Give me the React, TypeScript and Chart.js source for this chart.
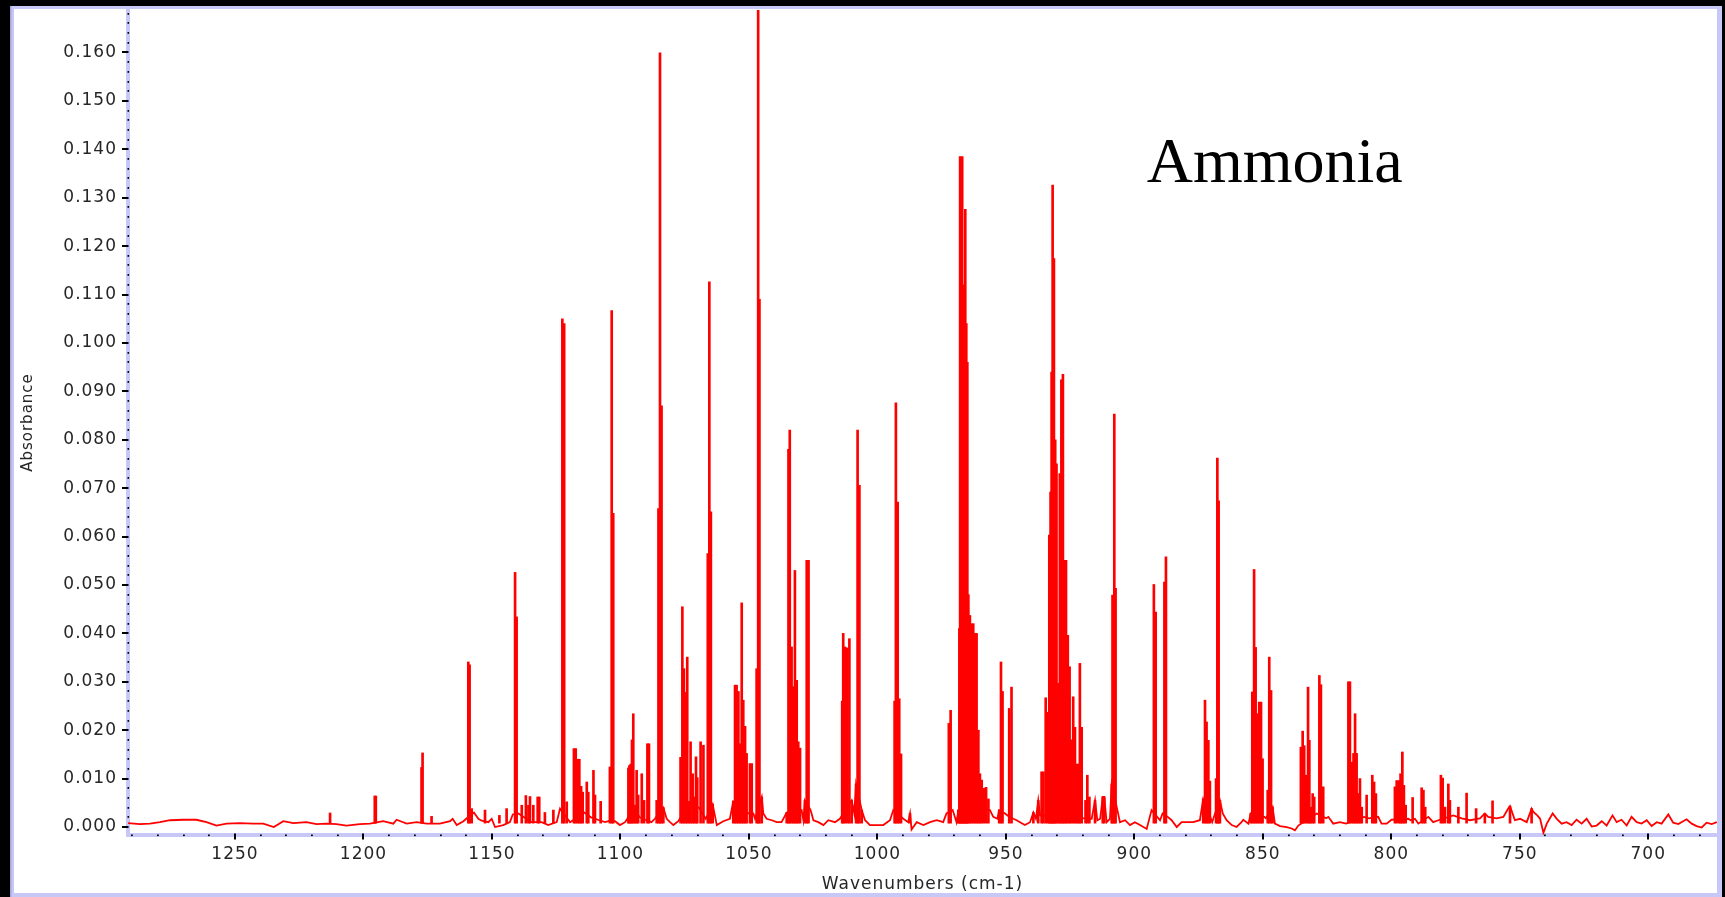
import React, { useEffect, useRef } from 'react';
import { Chart, registerables } from 'chart.js';

Chart.register(...registerables);

// Smooth background trace of the spectrum (wavenumber in cm-1, absorbance)
const BASE_WN = [
  1291.6, 1287.0, 1283.1, 1279.2, 1275.3, 1270.1, 1265.0, 1261.1, 1257.2, 1253.3,
  1248.1, 1242.9, 1239.0, 1234.9, 1231.2, 1227.3, 1222.2, 1218.3, 1214.4, 1210.5,
  1206.6, 1201.4, 1197.5, 1192.3, 1188.4, 1187.1, 1183.2, 1179.3, 1175.4, 1170.3,
  1166.3, 1165.3, 1163.7, 1161.1, 1159.8, 1157.0, 1155.3, 1154.0, 1151.4, 1150.1,
  1148.8, 1145.6, 1143.0, 1141.9, 1139.7, 1137.5, 1134.6, 1130.7, 1128.1, 1124.8,
  1123.5, 1119.6, 1114.0, 1111.5, 1108.8, 1106.0, 1104.7, 1102.1, 1100.2, 1098.2,
  1094.6, 1092.5, 1090.3, 1087.9, 1086.6, 1083.3, 1082.0, 1080.7, 1079.4, 1077.5,
  1073.0, 1069.5, 1066.8, 1064.1, 1062.5, 1060.0, 1057.4, 1056.1, 1050.2, 1048.3,
  1047.6, 1045.0, 1044.4, 1043.1, 1041.1, 1039.2, 1037.3, 1035.3, 1029.5, 1028.8,
  1028.2, 1026.0, 1024.9, 1023.0, 1021.0, 1019.1, 1016.5, 1014.6, 1010.0, 1009.0,
  1008.3, 1006.1, 1004.8, 1002.9, 1000.3, 997.7, 995.1, 993.8, 989.9, 988.0,
  987.3, 986.7, 984.7, 982.1, 979.5, 976.9, 974.4, 973.1, 970.7, 969.2,
  968.5, 956.2, 954.9, 953.3, 952.6, 950.3, 949.4, 947.1, 945.8, 944.5,
  942.6, 940.6, 939.3, 938.3, 937.4, 936.7, 916.6, 915.3, 914.4, 913.3,
  912.3, 911.7, 910.8, 909.5, 908.8, 906.6, 905.6, 903.6, 901.7, 899.8,
  897.8, 895.2, 893.3, 891.1, 890.0, 889.0, 887.0, 885.5, 883.5, 881.6,
  879.6, 877.1, 874.5, 873.2, 869.7, 868.6, 866.7, 865.6, 864.1, 862.1,
  860.2, 858.3, 857.6, 855.6, 854.7, 849.4, 848.8, 846.2, 845.3, 843.3,
  840.7, 838.8, 837.5, 836.2, 829.0, 825.4, 824.5, 822.6, 820.0, 817.6,
  810.6, 808.7, 805.1, 803.8, 801.8, 799.9, 793.4, 792.5, 790.8, 789.5,
  785.6, 783.7, 781.7, 775.9, 772.6, 769.4, 765.5, 763.6, 762.3, 759.0,
  756.4, 754.5, 753.8, 751.9, 749.9, 747.3, 745.4, 744.7, 743.2, 742.1,
  740.8, 739.5, 737.2, 735.6, 733.7, 731.8, 729.8, 727.9, 725.9, 724.0,
  722.0, 720.1, 718.1, 716.2, 713.9, 712.3, 710.4, 708.4, 706.5, 704.5,
  702.6, 700.6, 698.7, 696.7, 694.8, 692.2, 690.3, 688.3, 685.1, 683.1,
  681.2, 679.2, 677.3, 675.3, 673.3,
];
const BASE_ABS = [
  0.0008, 0.0006, 0.0007, 0.0010, 0.0014, 0.0015, 0.0015, 0.0010, 0.0003, 0.0007,
  0.0008, 0.0007, 0.0007, 0.0000, 0.0012, 0.0008, 0.0010, 0.0006, 0.0007, 0.0006,
  0.0003, 0.0006, 0.0007, 0.0012, 0.0007, 0.0015, 0.0007, 0.0010, 0.0007, 0.0007,
  0.0012, 0.0017, 0.0004, 0.0012, 0.0018, 0.0030, 0.0017, 0.0013, 0.0010, 0.0017,
  0.0000, 0.0004, 0.0010, 0.0026, 0.0028, 0.0020, 0.0010, 0.0010, 0.0004, 0.0010,
  0.0038, 0.0010, 0.0030, 0.0020, 0.0015, 0.0010, 0.0012, 0.0012, 0.0004, 0.0010,
  0.0040, 0.0020, 0.0015, 0.0010, 0.0017, 0.0040, 0.0017, 0.0010, 0.0004, 0.0012,
  0.0050, 0.0040, 0.0017, 0.0047, 0.0004, 0.0012, 0.0017, 0.0053, 0.0028, 0.0028,
  0.0017, 0.0062, 0.0028, 0.0017, 0.0014, 0.0010, 0.0010, 0.0030, 0.0035, 0.0014,
  0.0055, 0.0035, 0.0014, 0.0010, 0.0004, 0.0014, 0.0010, 0.0017, 0.0055, 0.0028,
  0.0089, 0.0035, 0.0014, 0.0004, 0.0004, 0.0004, 0.0014, 0.0035, 0.0017, 0.0010,
  0.0028, -0.0005, 0.0010, 0.0004, 0.0010, 0.0014, 0.0010, 0.0028, 0.0035, 0.0010,
  0.0035, 0.0035, 0.0021, 0.0017, 0.0035, 0.0028, 0.0024, 0.0017, 0.0014, 0.0010,
  0.0004, 0.0010, 0.0030, 0.0017, 0.0055, 0.0024, 0.0017, 0.0055, 0.0014, 0.0017,
  0.0062, 0.0062, 0.0010, 0.0017, 0.0089, 0.0035, 0.0010, 0.0014, 0.0004, 0.0010,
  0.0004, -0.0004, 0.0035, 0.0021, 0.0014, 0.0028, 0.0021, 0.0014, 0.0000, 0.0010,
  0.0010, 0.0010, 0.0014, 0.0058, 0.0010, 0.0028, 0.0055, 0.0028, 0.0014, 0.0004,
  0.0000, 0.0010, 0.0015, 0.0007, 0.0028, 0.0021, 0.0018, 0.0041, 0.0007, 0.0002,
  0.0000, -0.0003, -0.0007, 0.0003, 0.0028, 0.0018, 0.0021, 0.0007, 0.0010, 0.0007,
  0.0021, 0.0018, 0.0021, 0.0007, 0.0007, 0.0015, 0.0017, 0.0014, 0.0017, 0.0007,
  0.0021, 0.0010, 0.0014, 0.0024, 0.0018, 0.0014, 0.0018, 0.0028, 0.0021, 0.0018,
  0.0021, 0.0038, 0.0043, 0.0014, 0.0017, 0.0010, 0.0038, 0.0031, 0.0024, 0.0017,
  -0.0012, 0.0007, 0.0028, 0.0017, 0.0007, 0.0010, 0.0004, 0.0015, 0.0007, 0.0017,
  0.0001, 0.0003, 0.0012, 0.0003, 0.0024, 0.0010, 0.0015, 0.0003, 0.0021, 0.0010,
  0.0007, 0.0014, 0.0002, 0.0010, 0.0007, 0.0026, 0.0009, 0.0006, 0.0016, 0.0007,
  0.0002, -0.0001, 0.0009, 0.0006, 0.0010,
];

// Individual rotational-vibrational absorption lines (cm-1, absorbance)
const LINE_WN = [
  1213.0, 1195.6, 1195.2, 1177.4, 1177.0, 1173.5, 1159.2, 1158.7, 1157.9, 1152.7,
  1147.1, 1144.3, 1141.0, 1140.4, 1138.4, 1136.8, 1135.8, 1135.2, 1133.9, 1132.2,
  1131.6, 1129.4, 1126.1, 1122.6, 1121.9, 1120.9, 1118.1, 1117.4, 1116.6, 1116.0,
  1115.3, 1114.7, 1113.1, 1112.5, 1110.5, 1109.9, 1107.7, 1104.1, 1103.4, 1102.8,
  1096.9, 1096.5, 1096.0, 1095.5, 1095.0, 1094.3, 1093.7, 1093.1, 1091.7, 1090.8,
  1089.5, 1088.9, 1085.9, 1085.2, 1084.6, 1084.0, 1083.3, 1076.6, 1075.9, 1075.3,
  1074.6, 1074.0, 1073.3, 1072.7, 1071.9, 1071.3, 1070.6, 1070.1, 1068.8, 1067.7,
  1066.0, 1065.4, 1064.8, 1064.1, 1056.1, 1055.4, 1054.8, 1054.1, 1053.5, 1052.8,
  1052.2, 1051.5, 1050.9, 1049.6, 1048.9, 1047.0, 1046.4, 1045.9, 1045.0, 1035.3,
  1034.6, 1034.1, 1033.4, 1032.7, 1032.1, 1031.4, 1030.8, 1030.1, 1028.2, 1027.5,
  1026.8, 1013.7, 1013.3, 1012.6, 1011.7, 1010.9, 1010.0, 1008.3, 1007.7, 1007.0,
  1006.1, 993.3, 992.8, 992.1, 991.5, 990.8, 987.3, 972.2, 971.5, 968.5,
  968.1, 967.8, 967.4, 967.0, 966.6, 966.2, 965.8, 965.4, 965.0, 964.6,
  964.0, 963.4, 962.7, 962.0, 961.4, 960.7, 960.1, 959.4, 958.6, 957.7,
  956.8, 952.6, 951.9, 951.3, 948.7, 947.8, 939.3, 937.4, 936.1, 935.4,
  934.5, 933.7, 933.1, 932.6, 932.2, 931.8, 931.3, 930.8, 930.3, 929.6,
  929.0, 928.4, 927.8, 927.2, 926.6, 925.9, 925.2, 924.6, 923.8, 923.1,
  922.4, 921.8, 921.2, 920.5, 919.0, 918.3, 917.5, 915.3, 912.3, 911.7,
  908.8, 908.5, 907.8, 907.3, 892.4, 891.7, 888.3, 887.7, 873.2, 872.5,
  871.9, 871.2, 870.6, 868.2, 867.7, 867.2, 866.7, 854.7, 854.1, 853.4,
  852.8, 852.1, 851.4, 850.7, 850.1, 848.1, 847.5, 846.8, 846.2, 835.2,
  834.5, 833.9, 833.2, 832.4, 831.9, 831.3, 830.6, 830.0, 828.0, 827.4,
  826.5, 816.7, 816.1, 815.4, 814.7, 814.1, 813.5, 812.8, 812.2, 811.5,
  809.6, 807.4, 806.7, 806.0, 798.6, 797.9, 796.9, 796.4, 795.7, 795.1,
  794.4, 791.7, 788.2, 787.5, 786.8, 780.7, 780.0, 779.1, 777.8, 777.2,
  773.9, 770.7, 767.0, 763.6, 760.6, 753.8, 745.4,
];
const LINE_ABS = [
  0.0029, 0.0064, 0.0064, 0.0123, 0.0153, 0.0022, 0.0341, 0.0335, 0.0038, 0.0035,
  0.0024, 0.0038, 0.0526, 0.0434, 0.0045, 0.0065, 0.0045, 0.0063, 0.0045, 0.0062,
  0.0062, 0.0030, 0.0035, 0.1050, 0.1040, 0.0052, 0.0162, 0.0162, 0.0140, 0.0140,
  0.0084, 0.0072, 0.0093, 0.0072, 0.0117, 0.0066, 0.0053, 0.0124, 0.1067, 0.0648,
  0.0122, 0.0127, 0.0130, 0.0180, 0.0234, 0.0045, 0.0117, 0.0066, 0.0110, 0.0055,
  0.0172, 0.0172, 0.0055, 0.0658, 0.1599, 0.0870, 0.0040, 0.0144, 0.0455, 0.0327,
  0.0278, 0.0351, 0.0053, 0.0176, 0.0110, 0.0062, 0.0145, 0.0102, 0.0176, 0.0169,
  0.0565, 0.1126, 0.0651, 0.0047, 0.0053, 0.0293, 0.0293, 0.0280, 0.0172, 0.0463,
  0.0262, 0.0208, 0.0152, 0.0131, 0.0131, 0.0327, 0.1700, 0.1090, 0.0062, 0.0030,
  0.0780, 0.0820, 0.0372, 0.0290, 0.0530, 0.0303, 0.0176, 0.0163, 0.0055, 0.0551,
  0.0551, 0.0260, 0.0400, 0.0372, 0.0370, 0.0389, 0.0055, 0.0089, 0.0820, 0.0706,
  0.0035, 0.0260, 0.0876, 0.0671, 0.0265, 0.0151, 0.0028, 0.0214, 0.0241, 0.0035,
  0.0410, 0.1385, 0.0830, 0.1385, 0.1120, 0.1110, 0.1276, 0.1040, 0.0960, 0.0480,
  0.0437, 0.0420, 0.0420, 0.0400, 0.0400, 0.0200, 0.0110, 0.0097, 0.0080, 0.0082,
  0.0058, 0.0035, 0.0341, 0.0280, 0.0245, 0.0289, 0.0030, 0.0055, 0.0114, 0.0114,
  0.0267, 0.0237, 0.0603, 0.0692, 0.0940, 0.1326, 0.1174, 0.0800, 0.0750, 0.0297,
  0.0730, 0.0924, 0.0935, 0.0551, 0.0551, 0.0396, 0.0331, 0.0180, 0.0269, 0.0206,
  0.0130, 0.0130, 0.0338, 0.0206, 0.0055, 0.0107, 0.0062, 0.0055, 0.0062, 0.0062,
  0.0089, 0.0479, 0.0853, 0.0493, 0.0501, 0.0444, 0.0506, 0.0558, 0.0058, 0.0262,
  0.0217, 0.0179, 0.0095, 0.0100, 0.0762, 0.0674, 0.0055, 0.0028, 0.0279, 0.0532,
  0.0371, 0.0234, 0.0258, 0.0258, 0.0141, 0.0076, 0.0351, 0.0282, 0.0041, 0.0165,
  0.0198, 0.0168, 0.0107, 0.0289, 0.0179, 0.0041, 0.0069, 0.0062, 0.0313, 0.0294,
  0.0083, 0.0300, 0.0300, 0.0134, 0.0152, 0.0234, 0.0152, 0.0069, 0.0100, 0.0041,
  0.0066, 0.0107, 0.0093, 0.0069, 0.0083, 0.0096, 0.0096, 0.0110, 0.0155, 0.0086,
  0.0045, 0.0061, 0.0081, 0.0076, 0.0041, 0.0107, 0.0101, 0.0041, 0.0089, 0.0055,
  0.0041, 0.0070, 0.0038, 0.0028, 0.0054, 0.0043, 0.0038,
];

// Axis ranges and tick spacing
const X_MIN = 673.25;
const X_MAX = 1291.64;
const Y_MIN = -0.00165;
const Y_MAX = 0.16877;
const X_MAJOR = 50;
const X_MINOR = 10;
const Y_MAJOR = 0.01;
const Y_MINOR = 0.002;

const SAMPLE_LABEL = 'Ammonia';
const SAMPLE_LABEL_WN = 895.2;
const SAMPLE_LABEL_ABS = 0.1333;

const W = 1725;
const H = 897;
const LAVENDER = '#c8c8f8';
const TRACE = '#ff0000';
const TEXT = '#262626';
const SANS = '"DejaVu Sans", "Noto Sans", sans-serif';

const panelPlugin = {
  id: 'panel',
  beforeLayout(chart: any) {
    chart.ctx.letterSpacing = '1px';
  },
  beforeDraw(chart: any) {
    const ctx = chart.ctx;
    ctx.letterSpacing = '1px';
    ctx.save();
    ctx.fillStyle = '#000000';
    ctx.fillRect(0, 0, W, H);
    ctx.fillStyle = LAVENDER;
    ctx.fillRect(10, 6, 1712, 891);
    ctx.fillStyle = '#a8a8d8';
    ctx.fillRect(10, 6, 1.5, 891);
    ctx.fillStyle = '#ffffff';
    ctx.fillRect(14, 9, 1703, 884);
    ctx.restore();
  },
  afterDraw(chart: any) {
    const { ctx, chartArea, scales } = chart;
    const xs = scales.x;
    const ys = scales.y;
    ctx.save();
    ctx.letterSpacing = '0px';
    ctx.fillStyle = '#000000';
    // y axis: long major ticks, small dots for the minor ones
    const yLo = Math.ceil(Y_MIN / Y_MINOR);
    const yHi = Math.floor(Y_MAX / Y_MINOR);
    for (let k = yLo; k <= yHi; k++) {
      const py = Math.round(ys.getPixelForValue(k * Y_MINOR));
      if (k % Math.round(Y_MAJOR / Y_MINOR) === 0) {
        ctx.fillRect(chartArea.left - 6, py - 1, 6.5, 2);
      } else {
        ctx.fillRect(chartArea.left - 0.5, py - 1, 1.6, 1.8);
      }
    }
    // x axis
    const xLo = Math.ceil(X_MIN / X_MINOR);
    const xHi = Math.floor(X_MAX / X_MINOR);
    for (let k = xLo; k <= xHi; k++) {
      const px = Math.round(xs.getPixelForValue(k * X_MINOR));
      if ((k * X_MINOR) % X_MAJOR === 0) {
        ctx.fillRect(px - 1, chartArea.bottom - 1.5, 2, 6);
      } else {
        ctx.fillRect(px - 1, chartArea.bottom - 0.5, 1.8, 1.6);
      }
    }
    // sample name
    ctx.fillStyle = '#000000';
    ctx.font = '64px "Liberation Serif", "Times New Roman", serif';
    ctx.textAlign = 'left';
    ctx.textBaseline = 'alphabetic';
    ctx.fillText(
      SAMPLE_LABEL,
      xs.getPixelForValue(SAMPLE_LABEL_WN),
      ys.getPixelForValue(SAMPLE_LABEL_ABS)
    );
    ctx.restore();
  },
};

export default function App() {
  const canvasRef = useRef<HTMLCanvasElement | null>(null);

  useEffect(() => {
    const canvas = canvasRef.current;
    if (!canvas) return;

    const basePoints = BASE_WN.map((x, i) => ({ x, y: BASE_ABS[i] }));
    const linePoints = LINE_WN.map((x, i) => ({ x, y: LINE_ABS[i] }));

    const chart = new Chart(canvas, {
      type: 'bar',
      data: {
        datasets: [
          {
            type: 'line',
            data: basePoints,
            borderColor: TRACE,
            borderWidth: 1.8,
            pointRadius: 0,
            tension: 0,
            fill: false,
            clip: 0,
          } as any,
          {
            type: 'bar',
            data: linePoints,
            backgroundColor: TRACE,
            borderWidth: 0,
            barThickness: 2,
            base: 0.0008,
            clip: 0,
          } as any,
        ],
      },
      options: {
        responsive: false,
        devicePixelRatio: 1,
        animation: false,
        events: [],
        layout: { padding: { left: 14, top: 10, right: 8, bottom: 1 } },
        plugins: {
          legend: { display: false },
          tooltip: { enabled: false },
          title: { display: false },
        },
        scales: {
          x: {
            type: 'linear',
            reverse: true,
            min: X_MIN,
            max: X_MAX,
            offset: false,
            afterFit: (s: any) => {
              s.height = 61;
              s.paddingLeft = 0;
              s.paddingRight = 0;
            },
            grid: { display: true, drawOnChartArea: false, drawTicks: false },
            border: { display: true, color: LAVENDER, width: 4 },
            ticks: {
              stepSize: X_MAJOR,
              includeBounds: false,
              autoSkip: false,
              maxRotation: 0,
              padding: 9,
              color: TEXT,
              font: { family: SANS, size: 17 },
              callback: (v: any) => String(v),
            },
            title: {
              display: true,
              text: 'Wavenumbers (cm-1)',
              color: TEXT,
              font: { family: SANS, size: 17 },
              padding: { top: 0, bottom: 1 },
            },
          },
          y: {
            type: 'linear',
            min: Y_MIN,
            max: Y_MAX,
            afterFit: (s: any) => {
              s.width = 114;
              s.paddingTop = 0;
              s.paddingBottom = 0;
            },
            grid: { display: true, drawOnChartArea: false, drawTicks: false },
            border: { display: true, color: LAVENDER, width: 4 },
            ticks: {
              stepSize: Y_MAJOR,
              includeBounds: false,
              autoSkip: false,
              padding: 11,
              color: TEXT,
              font: { family: SANS, size: 17 },
              callback: (v: any) => Number(v).toFixed(3),
            },
            title: {
              display: true,
              text: 'Absorbance',
              color: TEXT,
              font: { family: SANS, size: 15 },
              padding: { top: 5, bottom: 0 },
            },
          },
        },
      } as any,
      plugins: [panelPlugin],
    });

    return () => chart.destroy();
  }, []);

  return (
    <canvas
      ref={canvasRef}
      width={W}
      height={H}
      style={{ position: 'fixed', left: 0, top: 0, width: W, height: H, display: 'block' }}
    />
  );
}
